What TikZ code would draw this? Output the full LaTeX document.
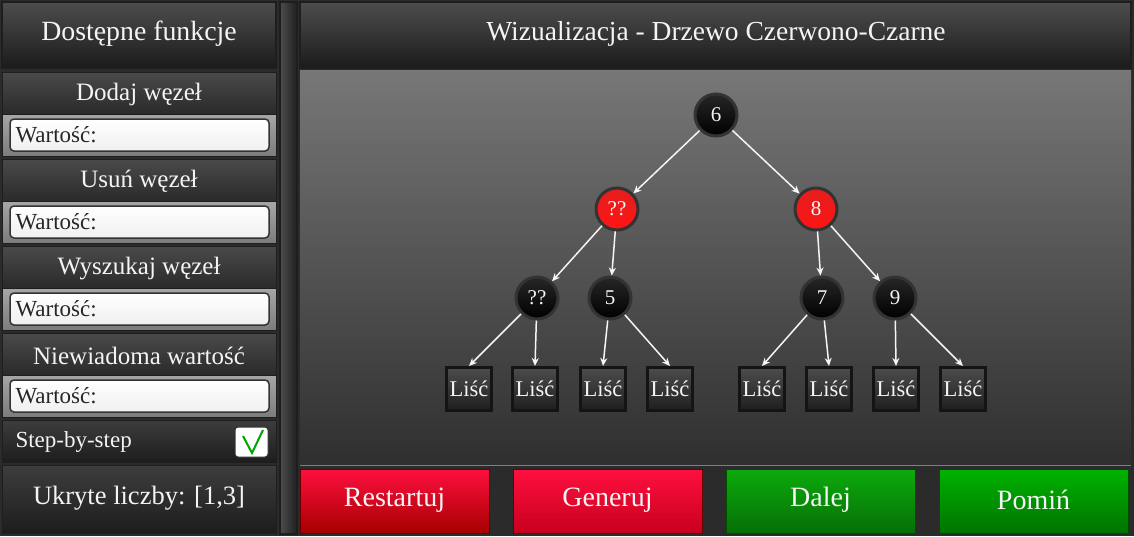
\documentclass[tikz,border=0pt]{standalone}
\usepackage{fontspec}
\setmainfont{Liberation Serif}
\usepackage{tikz}
\usetikzlibrary{positioning,arrows.meta}

\definecolor{panelbg}{HTML}{2B2B2B}
\definecolor{framecol}{HTML}{1E1E1E}
\definecolor{headtop}{HTML}{4D4D4D}
\definecolor{headbot}{HTML}{1B1B1B}
\definecolor{sectop}{HTML}{4A4A4A}
\definecolor{secbot}{HTML}{2A2A2A}
\definecolor{inputtop}{HTML}{A6A6A6}
\definecolor{inputbot}{HTML}{7C7C7C}
\definecolor{steptop}{HTML}{3D3D3D}
\definecolor{stepbot}{HTML}{1D1D1D}
\definecolor{canvastop}{HTML}{777777}
\definecolor{canvasbot}{HTML}{2F2F2F}
\definecolor{redtop}{HTML}{FF0F3F}
\definecolor{redbot}{HTML}{C8001E}
\definecolor{greentop}{HTML}{0CAB0C}
\definecolor{greenbot}{HTML}{066F06}
\definecolor{ringcol}{HTML}{333333}
\definecolor{nodered}{HTML}{FF1414}
\definecolor{nodereddark}{HTML}{E41E1E}
\definecolor{textcol}{HTML}{F4F4F4}

\tikzset{
  headbox/.style={top color=headtop, bottom color=headbot, draw=framecol, line width=1.5pt},
  secbox/.style={top color=sectop, bottom color=secbot, draw=framecol, line width=1pt},
  inputbar/.style={top color=inputtop, bottom color=inputbot, draw=framecol, line width=1pt},
  textfield/.style={top color=white, bottom color=black!6, draw=black!80, line width=1.5pt, rounded corners=4pt},
  stepbox/.style={top color=steptop, bottom color=stepbot, draw=framecol, line width=1pt},
  titletext/.style={text=textcol, font=\fontsize{27.8}{30}\selectfont},
  sectext/.style={text=textcol, font=\fontsize{25}{27}\selectfont},
  fieldtext/.style={text=black!85, font=\fontsize{23}{25}\selectfont, anchor=west},
  buttontext/.style={text=textcol, font=\fontsize{28}{30}\selectfont},
  blacknode/.style={circle, minimum size=42pt, inner sep=0pt, draw=ringcol, line width=3pt,
    top color=black!85, bottom color=black, text=textcol, font=\fontsize{21}{23}\selectfont},
  rednode/.style={blacknode, top color=nodereddark, bottom color=nodered},
  leaf/.style={rectangle, minimum width=45pt, minimum height=43pt, inner sep=0pt, draw=black!92,
    line width=3pt, top color=black!70, bottom color=black!88, text=textcol, font=\fontsize{22.5}{24}\selectfont},
  edge/.style={draw=black!4, line width=1.5pt, -{Stealth[length=8pt,width=7pt,inset=2.5pt]}}
}

\begin{document}
\begin{tikzpicture}[x=1pt,y=-1pt]
\fill[panelbg] (0,0) rectangle (1134,536);
\useasboundingbox (0,0) rectangle (1134,536);

\filldraw[headbox] (2,2) rectangle (276,68); %left header
\node[titletext] (functions) at (139,34) {Dostępne funkcje};

\foreach \y/\txt [count=\i] in {72/Dodaj węzeł,159/Usuń węzeł,246/Wyszukaj węzeł,333/Niewiadoma wartość}{
  \filldraw[secbox] (2,\y) rectangle (276,\y+42); %section header
  \filldraw[inputbar] (2,\y+42) rectangle (276,\y+84); %input strip
  \filldraw[textfield] (10,\y+47) rectangle (269,\y+79); %text field
  \node[sectext] (sec\i) at (139,\y+22.5) {\txt};
  \node[fieldtext] (value\i) at (12,\y+63) {Wartość:};
}

\filldraw[stepbox] (2,420) rectangle (276,462); %step-by-step
\node[fieldtext, text=textcol] (stepmode) at (12,442) {Step-by-step};
\filldraw[fill=white, draw=black!80, line width=1pt, rounded corners=3pt] (235,427) rectangle (268,457); %checkbox
\draw[green!65!black, line width=2pt] (243,436) -- (252,453) -- (263,430); %tick

\filldraw[stepbox] (2,465) rectangle (276,533); %hidden numbers
\node[sectext, font=\fontsize{26.5}{28}\selectfont] (hidden) at (139,498) {Ukryte liczby: [1,3]};

\filldraw[left color=black!70, right color=black!88, draw=framecol, line width=1.5pt] (280,2) rectangle (297,534); %scrollbar

\filldraw[headbox] (300,2) rectangle (1131,68); %right header
\node[titletext, font=\fontsize{27.5}{30}\selectfont] (title) at (716,34) {Wizualizacja - Drzewo Czerwono-Czarne};

\fill[top color=canvastop, bottom color=canvasbot] (300,70) rectangle (1131,464); %canvas
\draw[black!50, line width=1pt] (300,465) -- (1131,465);

\filldraw[top color=redtop, bottom color=red!65!black, draw=red!40!black, line width=0.8pt] (300,469) rectangle (489,533); %restart
\filldraw[top color=redtop, bottom color=redbot, draw=red!40!black, line width=0.8pt] (513,469) rectangle (702,533); %generate
\filldraw[top color=greentop, bottom color=greenbot, draw=green!30!black, line width=0.8pt] (726,469) rectangle (915,533); %next
\filldraw[top color=green!70!black, bottom color=green!45!black, draw=green!30!black, line width=0.8pt] (939,469) rectangle (1128,533); %skip
\node[buttontext] (restart) at (394.5,500) {Restartuj};
\node[buttontext] (generate) at (607.5,500) {Generuj};
\node[buttontext] (next) at (820.5,500) {Dalej};
\node[buttontext] (skip) at (1033.5,500) {Pomiń};

\node[blacknode] (n6) at (716,115) {6};
\node[rednode] (nq) at (617,209) {??};
\node[rednode] (n8) at (816,209) {8};
\node[blacknode] (nqq) at (537,298) {??};
\node[blacknode] (n5) at (610,298) {5};
\node[blacknode] (n7) at (822,298) {7};
\node[blacknode] (n9) at (895,298) {9};

\node[leaf] (leaf1) at (469,389) {Liść};
\node[leaf] (leaf2) at (535,389) {Liść};
\node[leaf] (leaf3) at (603,389) {Liść};
\node[leaf] (leaf4) at (670,389) {Liść};
\node[leaf] (leaf5) at (762,389) {Liść};
\node[leaf] (leaf6) at (829,389) {Liść};
\node[leaf] (leaf7) at (896,389) {Liść};
\node[leaf] (leaf8) at (963,389) {Liść};

\draw[edge] (n6) -- (nq);
\draw[edge] (n6) -- (n8);
\draw[edge] (nq) -- (nqq);
\draw[edge] (nq) -- (n5);
\draw[edge] (n8) -- (n7);
\draw[edge] (n8) -- (n9);
\draw[edge] (nqq) -- (leaf1.north);
\draw[edge] (nqq) -- (leaf2.north);
\draw[edge] (n5) -- (leaf3.north);
\draw[edge] (n5) -- (leaf4.north);
\draw[edge] (n7) -- (leaf5.north);
\draw[edge] (n7) -- (leaf6.north);
\draw[edge] (n9) -- (leaf7.north);
\draw[edge] (n9) -- (leaf8.north);

\end{tikzpicture}
\end{document}
